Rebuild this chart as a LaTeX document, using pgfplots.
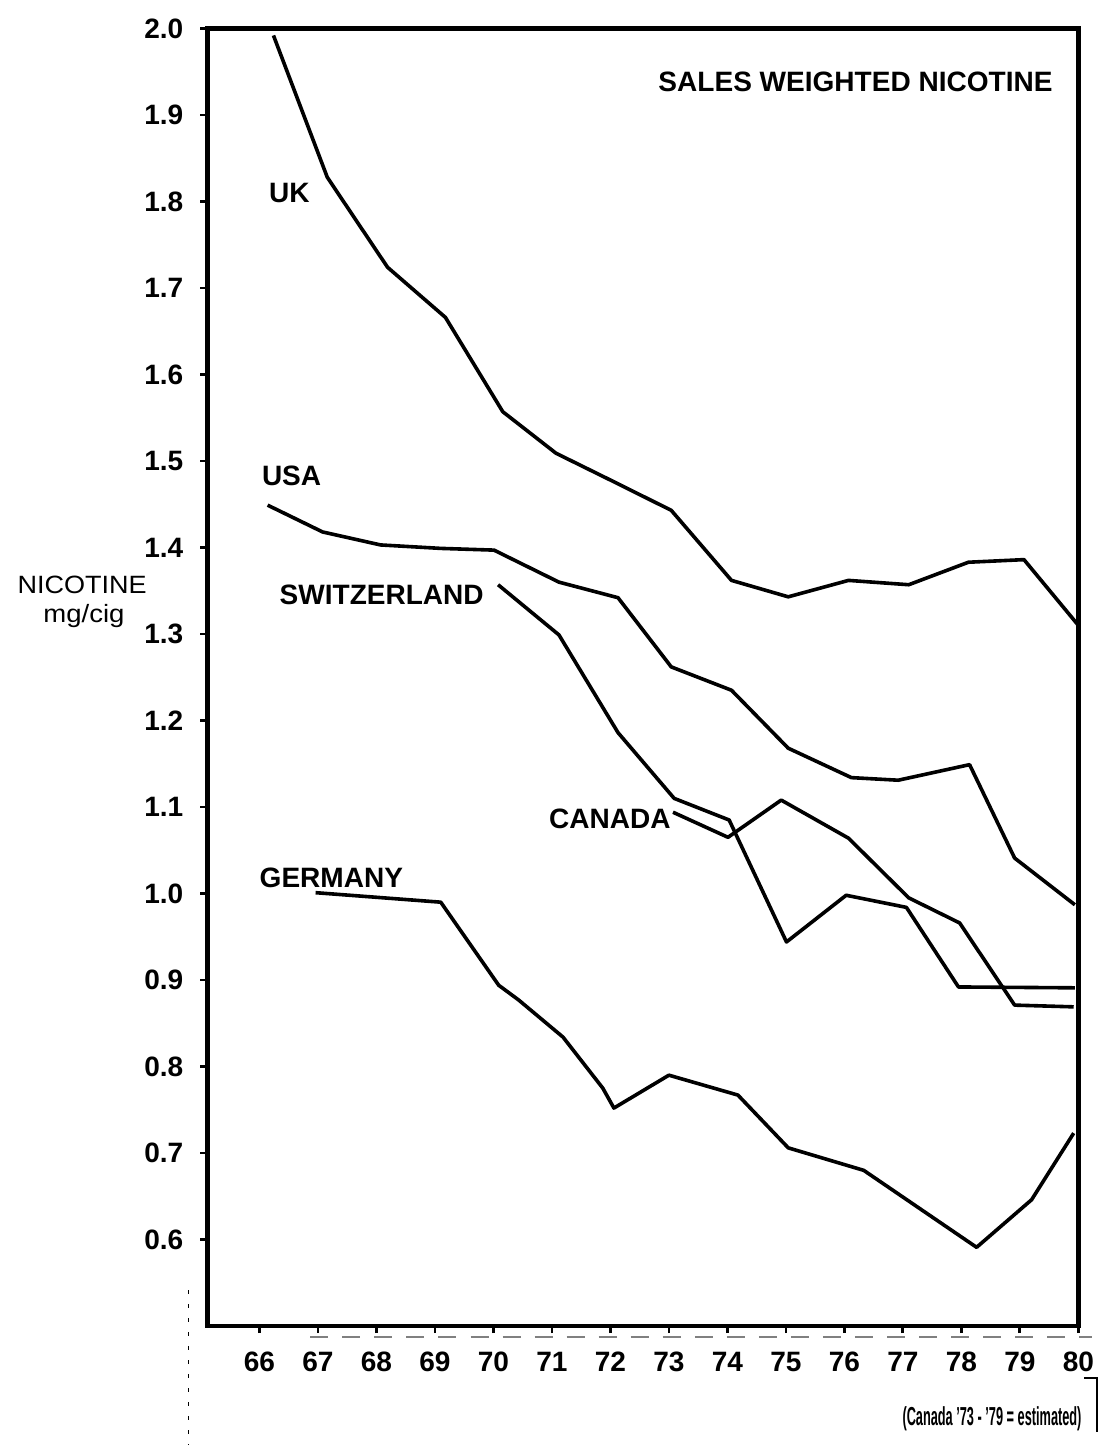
\documentclass[border=0pt]{standalone}
\usepackage{fontspec}
\setmainfont{Liberation Sans}
\usepackage{graphicx}
\usepackage{pgfplots}
\pgfplotsset{compat=1.18}
\begin{document}
\begin{tikzpicture}
\begin{axis}[
  scale only axis, width=435pt, height=648pt,
  xmin=65.11, xmax=80, ymin=0.5, ymax=2.0,
  axis line style={line width=2.3pt},
  xtick={66,67,68,69,70,71,72,73,74,75,76,77,78,79,80},
  ytick={0.6,0.7,0.8,0.9,1.0,1.1,1.2,1.3,1.4,1.5,1.6,1.7,1.8,1.9,2.0},
  xtick pos=bottom, ytick pos=left,
  tick align=outside, major tick length=3.5pt,
  tick style={line width=1.4pt, black},
  /pgf/number format/assume math mode=true,
  ticklabel style={font=\fontsize{14}{16}\selectfont\bfseries},
  yticklabel style={/pgf/number format/fixed, /pgf/number format/fixed zerofill, /pgf/number format/precision=1, xshift=-5pt},
  xticklabel style={/pgf/number format/1000 sep={}, yshift=-6pt},
  clip=false,
]
% UK
\addplot[black, line width=1.8pt, line join=round] coordinates {
(66.24,1.992)(67.16,1.828)(68.19,1.724)(69.18,1.666)(70.16,1.557)(71.07,1.509)(72.06,1.476)(73.04,1.443)(74.07,1.362)(75.04,1.343)(76.07,1.362)(77.10,1.357)(78.12,1.383)(79.07,1.386)(80.0,1.310)};
% USA
\addplot[black, line width=1.8pt, line join=round] coordinates {
(66.14,1.449)(67.08,1.418)(68.07,1.403)(69.10,1.399)(70.01,1.397)(71.12,1.360)(72.13,1.342)(73.04,1.262)(74.07,1.235)(75.04,1.168)(76.12,1.134)(76.92,1.131)(78.14,1.149)(78.91,1.041)(79.94,0.987)};
% Switzerland
\addplot[black, line width=1.8pt, line join=round] coordinates {
(70.08,1.357)(71.12,1.299)(72.13,1.186)(73.09,1.110)(74.03,1.085)(75.01,0.944)(76.03,0.998)(77.06,0.984)(77.95,0.892)(79.94,0.891)};
% Canada
\addplot[black, line width=1.8pt, line join=round] coordinates {
(73.07,1.094)(74.01,1.065)(74.92,1.108)(76.07,1.064)(77.10,0.995)(77.97,0.966)(78.91,0.871)(79.92,0.869)};
% Germany
\addplot[black, line width=1.8pt, line join=round] coordinates {
(66.96,1.001)(69.10,0.990)(70.09,0.894)(70.43,0.877)(71.19,0.834)(71.87,0.775)(72.06,0.752)(73.0,0.790)(74.18,0.767)(75.04,0.706)(76.33,0.680)(78.26,0.591)(79.20,0.646)(79.92,0.723)};

% labels
\node[anchor=base, font=\fontsize{14}{16}\selectfont\bfseries] at (axis cs:66.51,1.799) {UK};
\node[anchor=base, font=\fontsize{14}{16}\selectfont\bfseries] at (axis cs:66.55,1.472) {USA};
\node[anchor=base, font=\fontsize{14}{16}\selectfont\bfseries] at (axis cs:68.09,1.334) {SWITZERLAND};
\node[anchor=base, font=\fontsize{14}{16}\selectfont\bfseries] at (axis cs:71.99,1.075) {CANADA};
\node[anchor=base, font=\fontsize{14}{16}\selectfont\bfseries] at (axis cs:67.23,1.0075) {GERMANY};
\node[anchor=base, font=\fontsize{14}{16}\selectfont\bfseries] at (axis cs:76.19,1.927) {SALES WEIGHTED NICOTINE};
\node[anchor=base, inner sep=0pt, font=\fontsize{12.5}{13}\selectfont] at (axis cs:62.97,1.3474) {\scalebox{1.08}[1]{NICOTINE}};
\node[anchor=base, inner sep=0pt, font=\fontsize{12.5}{13}\selectfont] at (axis cs:63.0,1.3139) {\scalebox{1.1}[1]{mg/cig}};
\node[anchor=base east, inner sep=0pt, font=\fontsize{13}{14}\selectfont\bfseries] at (axis cs:80.06,0.3855) {\scalebox{0.49}[1]{(Canada '73 - '79 = estimated)}};

% scan-frame remnants
\draw[line width=0.9pt] (axis cs:80.1,0.44) -- (axis cs:80.315,0.44) -- (axis cs:80.315,0.3775);
\draw[line width=0.7pt, dash pattern=on 2pt off 5pt] (axis cs:64.784,0.5416) -- (axis cs:64.784,0.3624);
\draw[line width=0.7pt, dash pattern=on 9pt off 7pt, gray] (axis cs:66.87,0.4873) -- (axis cs:80.23,0.4873);

% page extent
\path (axis cs:61.565,2.033) rectangle (axis cs:80.503,0.3567);
\end{axis}
\end{tikzpicture}
\end{document}
